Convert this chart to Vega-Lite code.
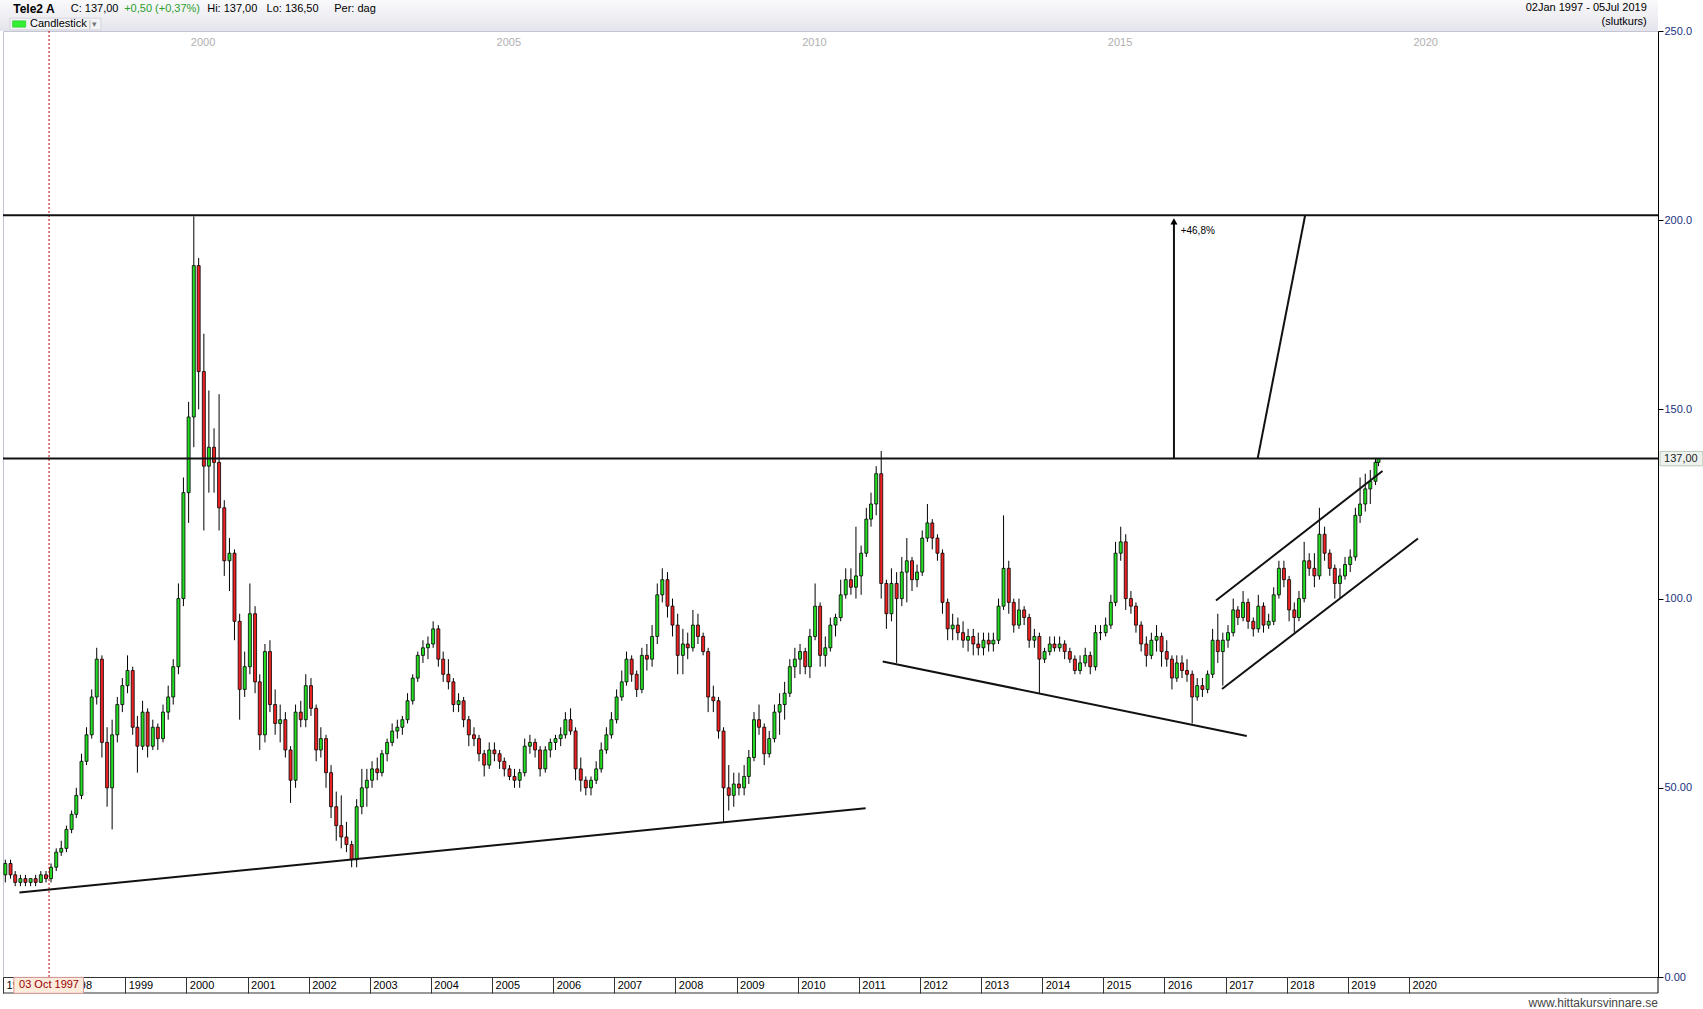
{
"$schema": "https://vega.github.io/schema/vega-lite/v6.json",
"width": 1655, "height": 946,
"autosize": {"type": "none"},
"padding": {"left": 3, "top": 31, "right": 45, "bottom": 32},
"background": "white",
"config": {"view": {"stroke": "#c4c4d4"}, "font": "Liberation Sans"},
"datasets": {
"ohlc": [
{"t":"1997-01-15","o":27,"h":31,"l":25,"c":30},{"t":"1997-02-15","o":30,"h":31,"l":26,"c":27},{"t":"1997-03-15","o":27,"h":28,"l":24,"c":25},{"t":"1997-04-15","o":25,"h":27,"l":24,"c":26},{"t":"1997-05-15","o":26,"h":27,"l":24,"c":25},{"t":"1997-06-15","o":25,"h":26,"l":24,"c":26},{"t":"1997-07-15","o":26,"h":27,"l":24,"c":25},{"t":"1997-08-15","o":25,"h":28,"l":25,"c":27},{"t":"1997-09-15","o":27,"h":28,"l":25,"c":26},{"t":"1997-10-15","o":26,"h":30,"l":25,"c":29},{"t":"1997-11-15","o":29,"h":34,"l":28,"c":33},{"t":"1997-12-15","o":33,"h":36,"l":32,"c":34},
{"t":"1998-01-15","o":34,"h":40,"l":33,"c":39},{"t":"1998-02-15","o":39,"h":44,"l":38,"c":43},{"t":"1998-03-15","o":43,"h":50,"l":42,"c":48},{"t":"1998-04-15","o":48,"h":59,"l":47,"c":57},{"t":"1998-05-15","o":57,"h":66,"l":56,"c":64},{"t":"1998-06-15","o":64,"h":76,"l":63,"c":74},{"t":"1998-07-15","o":74,"h":87,"l":72,"c":84},{"t":"1998-08-15","o":84,"h":85,"l":58,"c":62},{"t":"1998-09-15","o":62,"h":66,"l":45,"c":50},{"t":"1998-10-15","o":50,"h":68,"l":39,"c":64},{"t":"1998-11-15","o":64,"h":74,"l":62,"c":72},{"t":"1998-12-15","o":72,"h":79,"l":70,"c":77},
{"t":"1999-01-15","o":77,"h":85,"l":75,"c":81},{"t":"1999-02-15","o":81,"h":82,"l":64,"c":66},{"t":"1999-03-15","o":66,"h":69,"l":54,"c":61},{"t":"1999-04-15","o":61,"h":73,"l":60,"c":70},{"t":"1999-05-15","o":70,"h":71,"l":58,"c":61},{"t":"1999-06-15","o":61,"h":68,"l":60,"c":66},{"t":"1999-07-15","o":66,"h":67,"l":60,"c":63},{"t":"1999-08-15","o":63,"h":72,"l":62,"c":70},{"t":"1999-09-15","o":70,"h":77,"l":68,"c":74},{"t":"1999-10-15","o":74,"h":84,"l":72,"c":82},{"t":"1999-11-15","o":82,"h":104,"l":80,"c":100},{"t":"1999-12-15","o":100,"h":132,"l":98,"c":128},
{"t":"2000-01-15","o":128,"h":152,"l":120,"c":148},{"t":"2000-02-15","o":148,"h":201,"l":140,"c":188},{"t":"2000-03-15","o":188,"h":190,"l":150,"c":160},{"t":"2000-04-15","o":160,"h":170,"l":118,"c":135},{"t":"2000-05-15","o":135,"h":155,"l":128,"c":140},{"t":"2000-06-15","o":140,"h":145,"l":128,"c":136},{"t":"2000-07-15","o":136,"h":154,"l":118,"c":124},{"t":"2000-08-15","o":124,"h":126,"l":106,"c":110},{"t":"2000-09-15","o":110,"h":116,"l":102,"c":112},{"t":"2000-10-15","o":112,"h":113,"l":89,"c":94},{"t":"2000-11-15","o":94,"h":96,"l":68,"c":76},{"t":"2000-12-15","o":76,"h":86,"l":74,"c":82},
{"t":"2001-01-15","o":82,"h":104,"l":80,"c":96},{"t":"2001-02-15","o":96,"h":98,"l":75,"c":78},{"t":"2001-03-15","o":78,"h":80,"l":60,"c":64},{"t":"2001-04-15","o":64,"h":88,"l":62,"c":86},{"t":"2001-05-15","o":86,"h":89,"l":70,"c":72},{"t":"2001-06-15","o":72,"h":76,"l":64,"c":67},{"t":"2001-07-15","o":67,"h":72,"l":62,"c":68},{"t":"2001-08-15","o":68,"h":70,"l":58,"c":60},{"t":"2001-09-15","o":60,"h":61,"l":46,"c":52},{"t":"2001-10-15","o":52,"h":72,"l":50,"c":70},{"t":"2001-11-15","o":70,"h":73,"l":66,"c":68},{"t":"2001-12-15","o":68,"h":80,"l":66,"c":77},
{"t":"2002-01-15","o":77,"h":79,"l":69,"c":71},{"t":"2002-02-15","o":71,"h":72,"l":57,"c":60},{"t":"2002-03-15","o":60,"h":66,"l":58,"c":63},{"t":"2002-04-15","o":63,"h":64,"l":50,"c":54},{"t":"2002-05-15","o":54,"h":56,"l":42,"c":45},{"t":"2002-06-15","o":45,"h":49,"l":36,"c":40},{"t":"2002-07-15","o":40,"h":48,"l":34,"c":37},{"t":"2002-08-15","o":37,"h":41,"l":33,"c":35},{"t":"2002-09-15","o":35,"h":36,"l":29,"c":31},{"t":"2002-10-15","o":31,"h":47,"l":29,"c":45},{"t":"2002-11-15","o":45,"h":55,"l":43,"c":50},{"t":"2002-12-15","o":50,"h":55,"l":45,"c":52},
{"t":"2003-01-15","o":52,"h":57,"l":50,"c":55},{"t":"2003-02-15","o":55,"h":58,"l":52,"c":54},{"t":"2003-03-15","o":54,"h":60,"l":53,"c":59},{"t":"2003-04-15","o":59,"h":63,"l":57,"c":62},{"t":"2003-05-15","o":62,"h":67,"l":61,"c":65},{"t":"2003-06-15","o":65,"h":68,"l":63,"c":66},{"t":"2003-07-15","o":66,"h":69,"l":64,"c":68},{"t":"2003-08-15","o":68,"h":75,"l":67,"c":73},{"t":"2003-09-15","o":73,"h":80,"l":72,"c":79},{"t":"2003-10-15","o":79,"h":86,"l":78,"c":85},{"t":"2003-11-15","o":85,"h":89,"l":83,"c":87},{"t":"2003-12-15","o":87,"h":90,"l":84,"c":88},
{"t":"2004-01-15","o":88,"h":94,"l":87,"c":92},{"t":"2004-02-15","o":92,"h":93,"l":82,"c":84},{"t":"2004-03-15","o":84,"h":86,"l":78,"c":80},{"t":"2004-04-15","o":80,"h":84,"l":76,"c":78},{"t":"2004-05-15","o":78,"h":79,"l":70,"c":72},{"t":"2004-06-15","o":72,"h":75,"l":70,"c":73},{"t":"2004-07-15","o":73,"h":74,"l":66,"c":68},{"t":"2004-08-15","o":68,"h":69,"l":61,"c":64},{"t":"2004-09-15","o":64,"h":66,"l":61,"c":63},{"t":"2004-10-15","o":63,"h":64,"l":57,"c":59},{"t":"2004-11-15","o":59,"h":60,"l":53,"c":56},{"t":"2004-12-15","o":56,"h":62,"l":55,"c":60},
{"t":"2005-01-15","o":60,"h":62,"l":57,"c":59},{"t":"2005-02-15","o":59,"h":60,"l":55,"c":57},{"t":"2005-03-15","o":57,"h":58,"l":53,"c":55},{"t":"2005-04-15","o":55,"h":56,"l":52,"c":53},{"t":"2005-05-15","o":53,"h":55,"l":50,"c":52},{"t":"2005-06-15","o":52,"h":55,"l":50,"c":54},{"t":"2005-07-15","o":54,"h":63,"l":53,"c":61},{"t":"2005-08-15","o":61,"h":64,"l":59,"c":62},{"t":"2005-09-15","o":62,"h":63,"l":58,"c":60},{"t":"2005-10-15","o":60,"h":61,"l":53,"c":55},{"t":"2005-11-15","o":55,"h":61,"l":54,"c":60},{"t":"2005-12-15","o":60,"h":63,"l":58,"c":62},
{"t":"2006-01-15","o":62,"h":64,"l":60,"c":63},{"t":"2006-02-15","o":63,"h":66,"l":61,"c":64},{"t":"2006-03-15","o":64,"h":70,"l":63,"c":68},{"t":"2006-04-15","o":68,"h":71,"l":64,"c":65},{"t":"2006-05-15","o":65,"h":66,"l":52,"c":55},{"t":"2006-06-15","o":55,"h":58,"l":49,"c":52},{"t":"2006-07-15","o":52,"h":53,"l":48,"c":50},{"t":"2006-08-15","o":50,"h":53,"l":48,"c":52},{"t":"2006-09-15","o":52,"h":57,"l":51,"c":55},{"t":"2006-10-15","o":55,"h":62,"l":54,"c":60},{"t":"2006-11-15","o":60,"h":66,"l":59,"c":64},{"t":"2006-12-15","o":64,"h":70,"l":63,"c":68},
{"t":"2007-01-15","o":68,"h":76,"l":67,"c":74},{"t":"2007-02-15","o":74,"h":81,"l":73,"c":78},{"t":"2007-03-15","o":78,"h":86,"l":77,"c":84},{"t":"2007-04-15","o":84,"h":85,"l":78,"c":80},{"t":"2007-05-15","o":80,"h":81,"l":74,"c":76},{"t":"2007-06-15","o":76,"h":87,"l":75,"c":85},{"t":"2007-07-15","o":85,"h":88,"l":81,"c":84},{"t":"2007-08-15","o":84,"h":93,"l":82,"c":90},{"t":"2007-09-15","o":90,"h":104,"l":88,"c":101},{"t":"2007-10-15","o":101,"h":108,"l":99,"c":105},{"t":"2007-11-15","o":105,"h":107,"l":95,"c":98},{"t":"2007-12-15","o":98,"h":100,"l":90,"c":93},
{"t":"2008-01-15","o":93,"h":96,"l":80,"c":85},{"t":"2008-02-15","o":85,"h":92,"l":80,"c":88},{"t":"2008-03-15","o":88,"h":91,"l":84,"c":87},{"t":"2008-04-15","o":87,"h":97,"l":86,"c":93},{"t":"2008-05-15","o":93,"h":96,"l":88,"c":90},{"t":"2008-06-15","o":90,"h":91,"l":85,"c":86},{"t":"2008-07-15","o":86,"h":87,"l":70,"c":74},{"t":"2008-08-15","o":74,"h":77,"l":70,"c":73},{"t":"2008-09-15","o":73,"h":74,"l":63,"c":65},{"t":"2008-10-15","o":65,"h":66,"l":41,"c":50},{"t":"2008-11-15","o":50,"h":56,"l":44,"c":48},{"t":"2008-12-15","o":48,"h":54,"l":45,"c":51},
{"t":"2009-01-15","o":51,"h":54,"l":48,"c":50},{"t":"2009-02-15","o":50,"h":56,"l":48,"c":53},{"t":"2009-03-15","o":53,"h":60,"l":51,"c":58},{"t":"2009-04-15","o":58,"h":70,"l":57,"c":68},{"t":"2009-05-15","o":68,"h":72,"l":64,"c":66},{"t":"2009-06-15","o":66,"h":67,"l":56,"c":59},{"t":"2009-07-15","o":59,"h":65,"l":58,"c":63},{"t":"2009-08-15","o":63,"h":72,"l":62,"c":70},{"t":"2009-09-15","o":70,"h":75,"l":64,"c":72},{"t":"2009-10-15","o":72,"h":78,"l":68,"c":75},{"t":"2009-11-15","o":75,"h":84,"l":74,"c":82},{"t":"2009-12-15","o":82,"h":87,"l":79,"c":84},
{"t":"2010-01-15","o":84,"h":88,"l":80,"c":86},{"t":"2010-02-15","o":86,"h":87,"l":80,"c":82},{"t":"2010-03-15","o":82,"h":92,"l":79,"c":90},{"t":"2010-04-15","o":90,"h":104,"l":89,"c":98},{"t":"2010-05-15","o":98,"h":99,"l":82,"c":85},{"t":"2010-06-15","o":85,"h":90,"l":82,"c":87},{"t":"2010-07-15","o":87,"h":95,"l":86,"c":93},{"t":"2010-08-15","o":93,"h":96,"l":90,"c":95},{"t":"2010-09-15","o":95,"h":105,"l":94,"c":101},{"t":"2010-10-15","o":101,"h":108,"l":100,"c":105},{"t":"2010-11-15","o":105,"h":108,"l":101,"c":103},{"t":"2010-12-15","o":103,"h":119,"l":100,"c":106},
{"t":"2011-01-15","o":106,"h":114,"l":101,"c":112},{"t":"2011-02-15","o":112,"h":124,"l":111,"c":121},{"t":"2011-03-15","o":121,"h":128,"l":119,"c":125},{"t":"2011-04-15","o":125,"h":135,"l":122,"c":133},{"t":"2011-05-15","o":133,"h":139,"l":100,"c":104},{"t":"2011-06-15","o":104,"h":105,"l":92,"c":96},{"t":"2011-07-15","o":96,"h":108,"l":94,"c":104},{"t":"2011-08-15","o":104,"h":107,"l":83,"c":100},{"t":"2011-09-15","o":100,"h":111,"l":98,"c":107},{"t":"2011-10-15","o":107,"h":116,"l":99,"c":110},{"t":"2011-11-15","o":110,"h":111,"l":102,"c":105},{"t":"2011-12-15","o":105,"h":109,"l":103,"c":107},
{"t":"2012-01-15","o":107,"h":118,"l":106,"c":116},{"t":"2012-02-15","o":116,"h":125,"l":115,"c":120},{"t":"2012-03-15","o":120,"h":121,"l":113,"c":116},{"t":"2012-04-15","o":116,"h":117,"l":110,"c":112},{"t":"2012-05-15","o":112,"h":113,"l":96,"c":99},{"t":"2012-06-15","o":99,"h":100,"l":89,"c":92},{"t":"2012-07-15","o":92,"h":96,"l":89,"c":93},{"t":"2012-08-15","o":93,"h":95,"l":89,"c":91},{"t":"2012-09-15","o":91,"h":94,"l":87,"c":89},{"t":"2012-10-15","o":89,"h":92,"l":86,"c":90},{"t":"2012-11-15","o":90,"h":92,"l":85,"c":88},{"t":"2012-12-15","o":88,"h":91,"l":85,"c":87},
{"t":"2013-01-15","o":87,"h":91,"l":85,"c":89},{"t":"2013-02-15","o":89,"h":91,"l":86,"c":88},{"t":"2013-03-15","o":88,"h":91,"l":86,"c":89},{"t":"2013-04-15","o":89,"h":100,"l":88,"c":98},{"t":"2013-05-15","o":98,"h":122,"l":97,"c":108},{"t":"2013-06-15","o":108,"h":110,"l":96,"c":99},{"t":"2013-07-15","o":99,"h":100,"l":91,"c":93},{"t":"2013-08-15","o":93,"h":100,"l":92,"c":97},{"t":"2013-09-15","o":97,"h":98,"l":93,"c":95},{"t":"2013-10-15","o":95,"h":96,"l":87,"c":89},{"t":"2013-11-15","o":89,"h":92,"l":87,"c":90},{"t":"2013-12-15","o":90,"h":91,"l":75,"c":84},
{"t":"2014-01-15","o":84,"h":87,"l":83,"c":86},{"t":"2014-02-15","o":86,"h":90,"l":85,"c":88},{"t":"2014-03-15","o":88,"h":90,"l":86,"c":87},{"t":"2014-04-15","o":87,"h":90,"l":86,"c":88},{"t":"2014-05-15","o":88,"h":89,"l":84,"c":86},{"t":"2014-06-15","o":86,"h":87,"l":83,"c":84},{"t":"2014-07-15","o":84,"h":85,"l":80,"c":81},{"t":"2014-08-15","o":81,"h":85,"l":80,"c":83},{"t":"2014-09-15","o":83,"h":87,"l":82,"c":85},{"t":"2014-10-15","o":85,"h":86,"l":80,"c":82},{"t":"2014-11-15","o":82,"h":93,"l":81,"c":91},{"t":"2014-12-15","o":91,"h":93,"l":89,"c":91},
{"t":"2015-01-15","o":91,"h":95,"l":90,"c":93},{"t":"2015-02-15","o":93,"h":101,"l":92,"c":99},{"t":"2015-03-15","o":99,"h":115,"l":98,"c":112},{"t":"2015-04-15","o":112,"h":119,"l":110,"c":115},{"t":"2015-05-15","o":115,"h":117,"l":97,"c":100},{"t":"2015-06-15","o":100,"h":102,"l":96,"c":98},{"t":"2015-07-15","o":98,"h":99,"l":91,"c":93},{"t":"2015-08-15","o":93,"h":94,"l":86,"c":88},{"t":"2015-09-15","o":88,"h":90,"l":82,"c":85},{"t":"2015-10-15","o":85,"h":91,"l":84,"c":89},{"t":"2015-11-15","o":89,"h":93,"l":86,"c":90},{"t":"2015-12-15","o":90,"h":91,"l":82,"c":86},
{"t":"2016-01-15","o":86,"h":89,"l":82,"c":84},{"t":"2016-02-15","o":84,"h":85,"l":76,"c":79},{"t":"2016-03-15","o":79,"h":85,"l":78,"c":83},{"t":"2016-04-15","o":83,"h":85,"l":79,"c":81},{"t":"2016-05-15","o":81,"h":84,"l":78,"c":80},{"t":"2016-06-15","o":80,"h":81,"l":67,"c":74},{"t":"2016-07-15","o":74,"h":79,"l":73,"c":77},{"t":"2016-08-15","o":77,"h":79,"l":74,"c":76},{"t":"2016-09-15","o":76,"h":81,"l":75,"c":80},{"t":"2016-10-15","o":80,"h":92,"l":79,"c":89},{"t":"2016-11-15","o":89,"h":96,"l":83,"c":86},{"t":"2016-12-15","o":86,"h":91,"l":77,"c":89},
{"t":"2017-01-15","o":89,"h":93,"l":87,"c":91},{"t":"2017-02-15","o":91,"h":100,"l":90,"c":97},{"t":"2017-03-15","o":97,"h":98,"l":93,"c":95},{"t":"2017-04-15","o":95,"h":102,"l":94,"c":99},{"t":"2017-05-15","o":99,"h":100,"l":92,"c":94},{"t":"2017-06-15","o":94,"h":95,"l":90,"c":92},{"t":"2017-07-15","o":92,"h":101,"l":91,"c":98},{"t":"2017-08-15","o":98,"h":99,"l":91,"c":93},{"t":"2017-09-15","o":93,"h":96,"l":92,"c":94},{"t":"2017-10-15","o":94,"h":103,"l":93,"c":101},{"t":"2017-11-15","o":101,"h":110,"l":100,"c":108},{"t":"2017-12-15","o":108,"h":110,"l":103,"c":105},
{"t":"2018-01-15","o":105,"h":106,"l":94,"c":97},{"t":"2018-02-15","o":97,"h":99,"l":91,"c":95},{"t":"2018-03-15","o":95,"h":102,"l":94,"c":100},{"t":"2018-04-15","o":100,"h":115,"l":99,"c":110},{"t":"2018-05-15","o":110,"h":112,"l":106,"c":108},{"t":"2018-06-15","o":108,"h":112,"l":103,"c":106},{"t":"2018-07-15","o":106,"h":124,"l":105,"c":117},{"t":"2018-08-15","o":117,"h":119,"l":110,"c":112},{"t":"2018-09-15","o":112,"h":113,"l":106,"c":108},{"t":"2018-10-15","o":108,"h":109,"l":100,"c":104},{"t":"2018-11-15","o":104,"h":108,"l":100,"c":106},{"t":"2018-12-15","o":106,"h":111,"l":105,"c":109},
{"t":"2019-01-15","o":109,"h":113,"l":107,"c":111},{"t":"2019-02-15","o":111,"h":124,"l":110,"c":122},{"t":"2019-03-15","o":122,"h":132,"l":120,"c":125},{"t":"2019-04-15","o":125,"h":133,"l":123,"c":129},{"t":"2019-05-15","o":129,"h":134,"l":125,"c":131},{"t":"2019-06-15","o":131,"h":137,"l":130,"c":136},{"t":"2019-07-03","o":136,"h":137,"l":135,"c":137}
],
"lines": [
{"id":"A","t":"1997-04-09","v":22.3},{"id":"A","t":"2011-02-11","v":44.6},
{"id":"B","t":"2011-05-24","v":83.4},{"id":"B","t":"2017-05-07","v":63.7},
{"id":"C","t":"2016-11-04","v":99.5},{"id":"C","t":"2019-07-27","v":133.7},
{"id":"D","t":"2016-12-10","v":76.1},{"id":"D","t":"2020-02-24","v":115.9},
{"id":"E","t":"2017-07-11","v":137},{"id":"E","t":"2018-04-20","v":201.1}
]
},
"resolve": {"axis": {"x": "independent", "y": "independent"}},
"layer": [
{"data": {"name": "ohlc"}, "mark": {"type": "rule", "color": "#000", "strokeWidth": 1},
 "encoding": {
  "x": {"field": "t", "type": "temporal", "scale": {"domain": [{"year": 1997, "month": 1, "date": 1}, {"year": 2024, "month": 1, "date": 28}], "nice": false, "padding": 0},
   "axis": {"orient": "bottom", "title": null, "grid": false, "values": [{"year":1997,"month":1,"date":1},{"year":1998,"month":1,"date":1},{"year":1999,"month":1,"date":1},{"year":2000,"month":1,"date":1},{"year":2001,"month":1,"date":1},{"year":2002,"month":1,"date":1},{"year":2003,"month":1,"date":1},{"year":2004,"month":1,"date":1},{"year":2005,"month":1,"date":1},{"year":2006,"month":1,"date":1},{"year":2007,"month":1,"date":1},{"year":2008,"month":1,"date":1},{"year":2009,"month":1,"date":1},{"year":2010,"month":1,"date":1},{"year":2011,"month":1,"date":1},{"year":2012,"month":1,"date":1},{"year":2013,"month":1,"date":1},{"year":2014,"month":1,"date":1},{"year":2015,"month":1,"date":1},{"year":2016,"month":1,"date":1},{"year":2017,"month":1,"date":1},{"year":2018,"month":1,"date":1},{"year":2019,"month":1,"date":1},{"year":2020,"month":1,"date":1}],
    "format": "%Y", "labelAlign": "left", "labelOffset": 3, "labelBaseline": "middle", "labelPadding": -8, "tickSize": 16, "tickColor": "#333", "domainColor": "#333", "labelColor": "#000", "labelFontSize": 11, "labelOverlap": false, "labelFlush": false}},
  "y": {"field": "l", "type": "quantitative", "scale": {"domain": [0, 250], "nice": false, "zero": false, "padding": 0},
   "axis": {"orient": "right", "title": null, "grid": false, "values": [0, 50, 100, 150, 200, 250], "labelExpr": "datum.value >= 100 ? format(datum.value, '.1f') : format(datum.value, '.2f')", "tickSize": 5, "tickColor": "#000", "domainColor": "#000", "labelColor": "#203080", "labelFontSize": 11, "labelPadding": 1, "labelOverlap": false, "labelFlush": false}},
  "y2": {"field": "h"}}},
{"data": {"name": "ohlc"}, "mark": {"type": "bar", "size": 3, "stroke": "#000", "strokeWidth": 0.8},
 "encoding": {
  "x": {"field": "t", "type": "temporal", "scale": {"domain": [{"year": 1997, "month": 1, "date": 1}, {"year": 2024, "month": 1, "date": 28}], "nice": false, "padding": 0},
   "axis": {"orient": "top", "title": null, "grid": false, "values": [{"year":2000,"month":1,"date":1},{"year":2005,"month":1,"date":1},{"year":2010,"month":1,"date":1},{"year":2015,"month":1,"date":1},{"year":2020,"month":1,"date":1}], "format": "%Y", "ticks": false, "tickSize": 0, "domain": false, "labelAlign": "left", "labelOffset": 4, "labelBaseline": "middle", "labelPadding": -11, "labelColor": "#b0b0b0", "labelFontSize": 11, "labelFlush": false}},
  "y": {"field": "o", "type": "quantitative", "scale": {"domain": [0, 250], "nice": false, "zero": false, "padding": 0}, "axis": null},
  "y2": {"field": "c"},
  "color": {"condition": {"test": "datum.c >= datum.o", "value": "#22dd22"}, "value": "#ee2222"}}},
{"data": {"values": [{}]}, "mark": {"type": "rect", "fill": {"gradient": "linear", "x1": 0, "y1": 0, "x2": 0, "y2": 1, "stops": [{"offset": 0, "color": "#fbfbfd"}, {"offset": 1, "color": "#e4e4ec"}]}},
 "encoding": {"x": {"datum": {"year": 1996, "month": 12, "date": 14}, "axis": null}, "x2": {"datum": {"year": 2024, "month": 1, "date": 28}}, "y": {"datum": 250, "axis": null}, "y2": {"datum": 258.6}}},
{"data": {"values": [{}]}, "mark": {"type": "rule", "color": "#cc0000", "strokeDash": [2, 2], "strokeWidth": 1},
 "encoding": {"x": {"datum": {"year": 1997, "month": 10, "date": 3}, "axis": null}}},
{"data": {"values": [{}]}, "mark": {"type": "rule", "color": "#111", "strokeWidth": 2},
 "encoding": {"y": {"datum": 137, "axis": null}}},
{"data": {"values": [{}]}, "mark": {"type": "rule", "color": "#111", "strokeWidth": 2},
 "encoding": {"y": {"datum": 201.3, "axis": null}}},
{"data": {"name": "lines"}, "mark": {"type": "line", "color": "#111", "strokeWidth": 2},
 "encoding": {"x": {"field": "t", "type": "temporal", "axis": null}, "y": {"field": "v", "type": "quantitative", "axis": null}, "detail": {"field": "id"}}},
{"data": {"values": [{}]}, "mark": {"type": "rule", "color": "#111", "strokeWidth": 2},
 "encoding": {"x": {"datum": {"year": 2016, "month": 2, "date": 27}, "axis": null}, "y": {"datum": 137, "axis": null}, "y2": {"datum": 199}}},
{"data": {"values": [{}]}, "mark": {"type": "point", "shape": "triangle-up", "filled": true, "color": "#000", "size": 50, "opacity": 1},
 "encoding": {"x": {"datum": {"year": 2016, "month": 2, "date": 27}, "axis": null}, "y": {"datum": 199.7, "axis": null}}},
{"data": {"values": [{}]}, "mark": {"type": "text", "text": "+46,8%", "align": "left", "baseline": "middle", "fontSize": 10, "color": "#000"},
 "encoding": {"x": {"datum": {"year": 2016, "month": 4, "date": 7}, "axis": null}, "y": {"datum": 197.2, "axis": null}}},
{"data": {"values": [{}]}, "mark": {"type": "rule", "color": "#333", "strokeWidth": 1},
 "encoding": {"x": {"datum": {"year": 1997, "month": 1, "date": 1}, "axis": null}, "x2": {"datum": {"year": 2024, "month": 1, "date": 28}}, "y": {"datum": -4.23, "axis": null}}},
{"data": {"values": [{}]}, "mark": {"type": "rule", "color": "#000", "strokeWidth": 1},
 "encoding": {"x": {"datum": {"year": 2024, "month": 1, "date": 28}, "axis": null}, "y": {"datum": 0, "axis": null}, "y2": {"datum": -4.23}}},
{"data": {"values": [{}]}, "mark": {"type": "rect", "fill": "#fdebdc", "stroke": "#d99a9a", "strokeWidth": 1},
 "encoding": {"x": {"datum": {"year": 1997, "month": 3, "date": 7}, "axis": null}, "x2": {"datum": {"year": 1998, "month": 4, "date": 27}}, "y": {"datum": -0.1, "axis": null}, "y2": {"datum": -4.3}}},
{"data": {"values": [{}]}, "mark": {"type": "text", "text": "03 Oct 1997", "align": "center", "baseline": "middle", "fontSize": 11, "color": "#990000"},
 "encoding": {"x": {"datum": {"year": 1997, "month": 10, "date": 3}, "axis": null}, "y": {"datum": -2.2, "axis": null}}},
{"data": {"values": [{}]}, "mark": {"type": "rect", "fill": "#eef2ee", "stroke": "#b8c8b8", "strokeWidth": 1},
 "encoding": {"x": {"datum": {"year": 2024, "month": 2, "date": 9}, "axis": null}, "x2": {"datum": {"year": 2024, "month": 10, "date": 22}}, "y": {"datum": 135.1, "axis": null}, "y2": {"datum": 138.9}}},
{"data": {"values": [{}]}, "mark": {"type": "text", "text": "137,00", "align": "left", "baseline": "middle", "fontSize": 11, "color": "#222"},
 "encoding": {"x": {"datum": {"year": 2024, "month": 3, "date": 4}, "axis": null}, "y": {"datum": 137, "axis": null}}},
{"data": {"values": [{}]}, "mark": {"type": "text", "text": "www.hittakursvinnare.se", "align": "right", "baseline": "middle", "fontSize": 12, "color": "#444"},
 "encoding": {"x": {"datum": {"year": 2024, "month": 1, "date": 28}, "axis": null}, "y": {"datum": -6.9, "axis": null}}},
{"data": {"values": [{}]}, "mark": {"type": "text", "text": "Tele2 A", "align": "left", "baseline": "middle", "fontSize": 12, "fontWeight": "bold", "color": "#000"},
 "encoding": {"x": {"datum": {"year": 1997, "month": 3, "date": 3}, "axis": null}, "y": {"datum": 255.8, "axis": null}}},
{"data": {"values": [{}]}, "mark": {"type": "text", "text": "C: 137,00", "align": "left", "baseline": "middle", "fontSize": 11, "color": "#000"},
 "encoding": {"x": {"datum": {"year": 1998, "month": 2, "date": 10}, "axis": null}, "y": {"datum": 255.8, "axis": null}}},
{"data": {"values": [{}]}, "mark": {"type": "text", "text": "+0,50 (+0,37%)", "align": "left", "baseline": "middle", "fontSize": 11, "color": "#2e9e2e"},
 "encoding": {"x": {"datum": {"year": 1998, "month": 12, "date": 26}, "axis": null}, "y": {"datum": 255.8, "axis": null}}},
{"data": {"values": [{}]}, "mark": {"type": "text", "text": "Hi: 137,00", "align": "left", "baseline": "middle", "fontSize": 11, "color": "#000"},
 "encoding": {"x": {"datum": {"year": 2000, "month": 5, "date": 5}, "axis": null}, "y": {"datum": 255.8, "axis": null}}},
{"data": {"values": [{}]}, "mark": {"type": "text", "text": "Lo: 136,50", "align": "left", "baseline": "middle", "fontSize": 11, "color": "#000"},
 "encoding": {"x": {"datum": {"year": 2001, "month": 4, "date": 25}, "axis": null}, "y": {"datum": 255.8, "axis": null}}},
{"data": {"values": [{}]}, "mark": {"type": "text", "text": "Per: dag", "align": "left", "baseline": "middle", "fontSize": 11, "color": "#000"},
 "encoding": {"x": {"datum": {"year": 2002, "month": 6, "date": 3}, "axis": null}, "y": {"datum": 255.8, "axis": null}}},
{"data": {"values": [{}]}, "mark": {"type": "rect", "fill": "#f3f3f5", "stroke": "#d4d4dc", "strokeWidth": 1},
 "encoding": {"x": {"datum": {"year": 1997, "month": 2, "date": 11}, "axis": null}, "x2": {"datum": {"year": 1998, "month": 8, "date": 9}}, "y": {"datum": 250.3, "axis": null}, "y2": {"datum": 253.4}}},
{"data": {"values": [{}]}, "mark": {"type": "rect", "fill": "#33ee33", "stroke": "#22bb22", "strokeWidth": 0.5},
 "encoding": {"x": {"datum": {"year": 1997, "month": 2, "date": 27}, "axis": null}, "x2": {"datum": {"year": 1997, "month": 5, "date": 17}}, "y": {"datum": 251.0, "axis": null}, "y2": {"datum": 252.7}}},
{"data": {"values": [{}]}, "mark": {"type": "text", "text": "Candlestick", "align": "left", "baseline": "middle", "fontSize": 11, "color": "#000"},
 "encoding": {"x": {"datum": {"year": 1997, "month": 6, "date": 11}, "axis": null}, "y": {"datum": 251.85, "axis": null}}},
{"data": {"values": [{}]}, "mark": {"type": "text", "text": "|", "align": "center", "baseline": "middle", "fontSize": 9, "color": "#aaa"},
 "encoding": {"x": {"datum": {"year": 1998, "month": 6, "date": 5}, "axis": null}, "y": {"datum": 251.85, "axis": null}}},
{"data": {"values": [{}]}, "mark": {"type": "text", "text": "▾", "align": "center", "baseline": "middle", "fontSize": 9, "color": "#777"},
 "encoding": {"x": {"datum": {"year": 1998, "month": 7, "date": 4}, "axis": null}, "y": {"datum": 251.85, "axis": null}}},
{"data": {"values": [{}]}, "mark": {"type": "text", "text": "02Jan 1997 - 05Jul 2019", "align": "right", "baseline": "middle", "fontSize": 11, "color": "#000"},
 "encoding": {"x": {"datum": {"year": 2023, "month": 11, "date": 22}, "axis": null}, "y": {"datum": 256.2, "axis": null}}},
{"data": {"values": [{}]}, "mark": {"type": "text", "text": "(slutkurs)", "align": "right", "baseline": "middle", "fontSize": 11, "color": "#000"},
 "encoding": {"x": {"datum": {"year": 2023, "month": 11, "date": 22}, "axis": null}, "y": {"datum": 252.4, "axis": null}}}
]
}
